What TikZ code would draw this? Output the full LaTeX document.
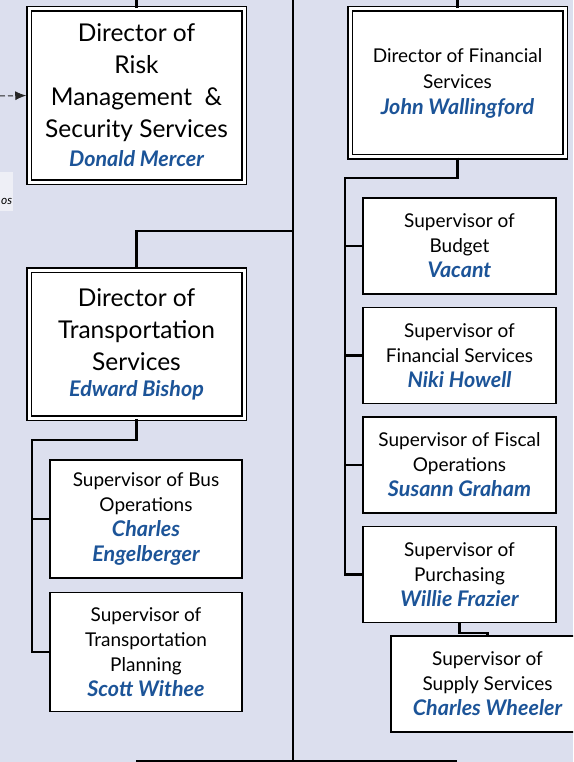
\documentclass[tikz,border=0pt]{standalone}
\usepackage{fontspec}
\setmainfont{Lato}
\usetikzlibrary{arrows.meta, positioning}

\definecolor{bgcol}{RGB}{220,223,238}
\definecolor{namecol}{RGB}{28,84,152}
\definecolor{notefill}{RGB}{238,239,246}
\newcommand{\who}[1]{{\color{namecol}\fontsize{21.5}{25}\bfseries\itshape\selectfont #1}}

\tikzset{
  dirbox/.style={draw, line width=1.5pt, double=white, double distance=3pt, fill=white,
    minimum width=215pt, inner sep=0pt, align=center},
  supbox/.style={draw, line width=1.5pt, fill=white, minimum width=193pt, minimum height=96pt,
    inner sep=0pt, align=center, font=\fontsize{19}{25}\selectfont},
  link/.style={line width=2.2pt},
}

\begin{document}
\begin{tikzpicture}[x=1pt, y=-1pt]
  \useasboundingbox (0,0) rectangle (573,762);
  \clip (0,0) rectangle (573,762);
  \fill[bgcol] (0,0) rectangle (573,762);

  % Directors
  \node[dirbox, minimum height=173pt, font=\fontsize{24.5}{32}\selectfont] (risk) at (136.5,95.5)
    {Director of\\Risk\\Management\ \ \&\\Security Services\\[-3pt]\who{Donald Mercer}};
  \node[dirbox, minimum height=148pt, font=\fontsize{24.5}{32}\selectfont] (trans) at (136.5,344)
    {Director of\\Transportation\\Services\\[-6pt]\who{Edward Bishop}};
  \node[dirbox, minimum height=148pt, font=\fontsize{19}{26}\selectfont] (fin) at (457.5,83)
    {Director of Financial\\Services\\\who{John Wallingford}};

  % Financial supervisors
  \node[supbox] (budget) at (459.5,246) {Supervisor of\\Budget\\\who{Vacant}};
  \node[supbox, below=12pt of budget] (finsup) {Supervisor of\\Financial Services\\\who{Niki Howell}};
  \node[supbox, below=12pt of finsup] (fiscal) {Supervisor of Fiscal\\Operations\\\who{Susann Graham}};
  \node[supbox, below=12pt of fiscal] (purch) {Supervisor of\\Purchasing\\\who{Willie Frazier}};
  \node[supbox] (supply) at (487.5,684) {Supervisor of\\Supply Services\\\who{Charles Wheeler}};

  % Transportation supervisors
  \node[supbox, minimum width=192pt, minimum height=118pt] (bus) at (146,519)
    {Supervisor of Bus\\Operations\\\who{Charles}\\\who{Engelberger}};
  \node[supbox, minimum width=192pt, minimum height=119pt, below=13pt of bus] (plan)
    {Supervisor of\\Transportation\\Planning\\\who{Scott Withee}};

  % Cut-off note at the left edge
  \node[fill=notefill, anchor=north west, inner xsep=1pt, inner ysep=3.5pt, text height=29pt, text depth=3pt,
    font=\fontsize{12}{14}\selectfont\itshape] (note) at (0,172) {os};

  % Trunk and links
  \coordinate (top) at (293,0);
  \coordinate (bottom) at (293,762);
  \coordinate (tjoin) at (293,231);
  \coordinate (tspine) at (32,440);
  \coordinate (fspine) at (345,178);
  \coordinate (baseL) at (136,761);
  \coordinate (baseR) at (457,761);
  \coordinate (dashin) at (0,96);

  \draw[link, line width=2.8pt] (top) -- (bottom);
  \draw[link] (baseL) -- (baseR);
  \draw[link] (risk.north) -- (risk.north |- top);
  \draw[link] (fin.north) -- (fin.north |- top);
  \draw[link] (tjoin) -| (trans.north);
  \draw[link] (trans.south) |- (tspine) |- (plan.west);
  \draw[link] (bus.west) -- (bus.west -| tspine);
  \draw[link] (fin.south) |- (fspine) |- (purch.west);
  \foreach \s in {budget, finsup, fiscal}
    \draw[link] (\s.west) -- (\s.west -| fspine);
  \draw[link] (purch.south) -- ++(0,10) -| (supply.north);
  \draw[dash pattern=on 5pt off 3pt, line width=1pt, black!85, -{Latex[length=11pt, width=9pt]}, shorten >=2pt]
    (dashin) -- (risk.west);
\end{tikzpicture}
\end{document}
